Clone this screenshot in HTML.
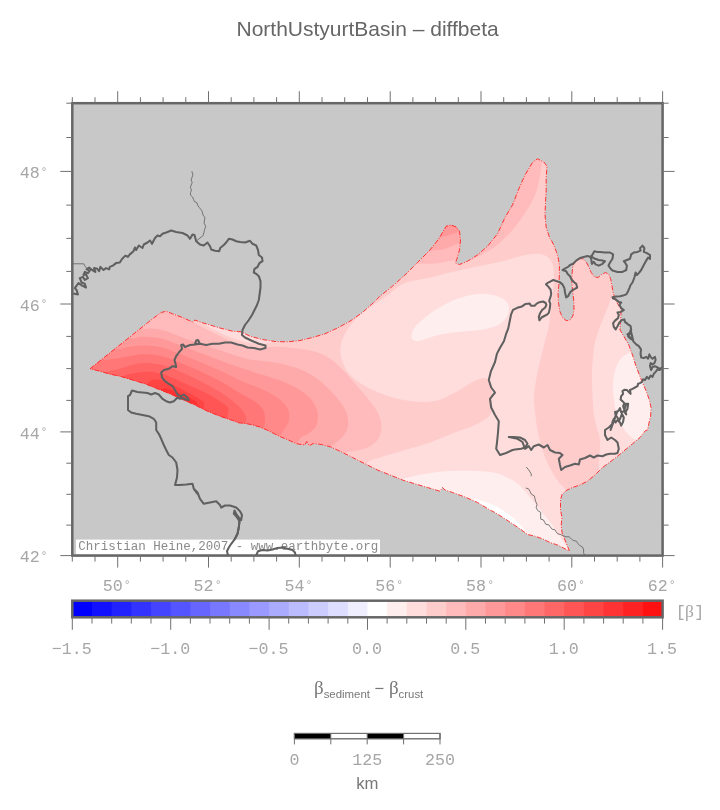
<!DOCTYPE html>
<html><head><meta charset="utf-8"><title>NorthUstyurtBasin - diffbeta</title>
<style>
html,body{margin:0;padding:0;background:#fff;}
svg{display:block;will-change:transform}
text{font-family:"Liberation Sans",sans-serif;}
.m{font-family:"Liberation Mono",monospace;font-size:16.67px;fill:#a6a6a6;}
.s{font-family:"Liberation Sans",sans-serif;fill:#777;}
</style></head><body>
<svg width="720" height="810" viewBox="0 0 720 810">
<defs><clipPath id="bc"><path d="M90 368.8 102.5 358.8 115 348.8 127.5 338.8 140 328.8 152.5 318.8 161.2 312.5 166.2 311.2 172.5 313.8 182.5 317.5 192.5 322 195 320 200 322 210 325 220 328 232.5 331.2 241.2 331.8 250 336.2 262.5 339.5 275 341.5 287.5 341.8 300 340.5 312.5 337.5 325 333.8 337.5 328 350 321.2 362.5 312.5 375 301.2 380 296.2 392.5 286.2 405 275 417.5 262.5 430 250 438.8 238.8 446.2 226.2 451.2 225 456.2 227 459.5 231.2 460.5 240 459.5 250 457 258.8 455.5 263 459.5 264.5 467.5 261.2 477.5 255 487.5 246.2 497.5 233.8 505 217.5 512.5 205 518.8 188.8 525 175 532.5 162.5 537.5 158.8 543.8 162 547 166.2 546.2 177.5 546.2 190 545.5 202.5 545 215 546.2 227.5 550 238.8 551.2 240 553.8 245 556.2 251.2 558.1 257.5 559.4 265 559.4 275 558.8 285 558.1 293.8 558.5 302.5 559.8 311.2 562.5 317.5 566.2 320.6 570 320 572.8 316.2 574 310 573.8 301.2 572.8 292.5 571.9 283.8 571.9 275 572.8 266.2 575 261.2 578.8 258.5 583.1 258.8 586.2 261.9 588.8 266.9 591.2 272.5 594.4 276.9 598.1 277.5 601.9 274.4 605.6 272.5 608.8 274.4 610.6 278.8 611.9 285 613.1 292.5 615 298.8 618.1 304.4 621.2 310 620 330 623.8 336.2 628.8 345 632.5 355 635.6 365 639.4 375 642.5 382.5 646.2 391.2 649.4 400 651 407.5 650.6 416.2 648.8 423.8 647.5 430 645.5 430.5 640 437.5 632.5 443.8 625 450 617.5 456.2 610 462 602.5 467.5 595 475 587.5 481.2 580 485 572.5 487.5 566.2 490.5 562 494.5 560.5 500 560.5 510 562 517.5 561.2 525 562 532.5 565 540 568 547.5 569.5 551.2 565 548.8 557.5 545 550 542.5 542.5 538.8 535 536.2 527.5 534.5 520 528.8 512.5 523.8 505 518.8 495 512.5 490 510 477.5 502.5 465 497 452.5 492.5 445 490 442.5 487.5 440 491.2 427.5 487.5 415 483.8 402.5 480 390 475 377.5 470 365 463.8 352.5 457.5 340 451.2 338.3 450.5 330 446.7 321.7 444.6 313.3 443.5 309.2 445.8 306.7 441.5 305 445 296.7 443.8 288.3 440 280.3 436.7 273.3 433.2 266.4 429.7 259.4 426.9 252.5 424.9 245.6 423.5 238.6 422.8 232.5 420.5 220 416.2 207.5 411.2 195 405 182.5 399.5 170 393.8 157.5 388.8 145 383.8 132.5 380 120 376.2 110 374.2 100 371.2Z"/></clipPath>
<clipPath id="fc"><rect x="72.3" y="103.2" width="590.3" height="452.4"/></clipPath></defs>
<rect width="720" height="810" fill="#fff"/>
<text x="367.6" y="35.7" text-anchor="middle" font-size="21" fill="#666">NorthUstyurtBasin – diffbeta</text>
<rect x="72.3" y="103.2" width="590.3" height="452.4" fill="#c8c8c8"/>
<g clip-path="url(#bc)">
<rect x="70" y="100" width="600" height="460" fill="rgb(255,221,221)"/>
<path d="M60 300C100 253.3 216.7 230 300 200C383.3 170 493.3 113.3 560 120C626.7 126.7 676.7 210 700 240C723.3 270 706.7 290 700 300C693.3 310 672.5 301.3 660 300C647.5 298.7 632.8 292.8 625 292C617.2 291.2 615.7 292.8 613 295C610.3 297.2 610.3 301.2 608.8 305C607.2 308.8 605.4 313.3 603.8 317.5C602.1 321.7 600.2 325.8 598.8 330C597.3 334.2 596 337.9 595 342.5C594 347.1 593.5 352.1 593 357.5C592.5 362.9 592.1 368.8 592 375C591.9 381.2 592.2 388.3 592.5 395C592.8 401.7 593.2 409.5 594 415C594.8 420.5 596 423.8 597 428C598 432.2 599.7 434.7 600 440C600.3 445.3 599.5 453.3 599 460C598.5 466.7 600.2 474.2 597 480C593.8 485.8 585.8 494 580 495C574.2 496 567.5 491.5 562 486C556.5 480.5 550.8 470.2 547 462C543.2 453.8 541 445.3 539 437C537 428.7 535.8 419 535 412C534.2 405 533.5 402 534 395C534.5 388 536.3 378.3 538 370C539.7 361.7 542.2 352.5 544 345C545.8 337.5 547.6 333.2 549 325C550.4 316.8 551.7 303.9 552.5 296C553.3 288.1 554 282.8 554 277.5C554 272.2 553.8 267.6 552.5 264C551.2 260.4 548.9 257.7 546 256C543.1 254.3 539.3 253.7 535 253.8C530.7 253.8 525.4 255 520 256.2C514.6 257.5 509.6 259.5 502.5 261.2C495.4 263 486.2 264.6 477.5 266.5C468.8 268.4 456.9 270.9 450 272.5C443.1 274.1 441.7 275 436.2 276.2C430.8 277.5 423.1 278.7 417.5 280C411.9 281.3 407.4 281.5 402.5 284C397.6 286.5 393.1 291.3 388 295C382.9 298.7 376.3 303 372 306C367.7 309 365.7 309.7 362 313C358.3 316.3 353.2 321.8 350 326C346.8 330.2 344.6 334.3 343 338C341.4 341.7 340.8 344.7 340.5 348C340.2 351.3 340.4 354.2 341.5 358C342.6 361.8 343.9 366.8 347 371C350.1 375.2 353.7 379 360 383C366.3 387 376.7 392 385 395C393.3 398 401.7 400 410 401C418.3 402 427.5 402.4 435 401C442.5 399.6 449.2 395.4 455 392.5C460.8 389.6 465.2 385.9 470 383.5C474.8 381.1 480.5 377.9 484 378C487.5 378.1 489.7 380.3 491 384C492.3 387.7 492.2 394.8 492 400C491.8 405.2 492.8 410.8 490 415C487.2 419.2 480.8 422.1 475 425C469.2 427.9 462.5 429.6 455 432.5C447.5 435.4 438.3 439.6 430 442.5C421.7 445.4 413.3 447.5 405 450C396.7 452.5 386.2 455.4 380 457.5C373.8 459.6 373.3 458.8 367.5 462.5C361.7 466.2 396.2 477.1 345 480C293.8 482.9 107.5 510 60 480C12.5 450 20 346.7 60 300Z" fill="rgb(255,204,204)"/>
<path d="M204 322C204.8 325.7 210.7 327.5 215 330C219.3 332.5 225 335 230 337C235 339 240.3 340.8 245 342C249.7 343.2 254.2 343.8 258 344C261.8 344.2 265.3 343.6 268 343C270.7 342.4 271.2 343.5 274 340.5C276.8 337.5 290.7 330.1 285 325C279.3 319.9 252.5 312.8 240 310C227.5 307.2 216 306 210 308C204 310 203.2 318.3 204 322Z" fill="rgb(255,221,221)"/>
<path d="M169 306.5C171.3 308.2 178.7 313.8 183 316.5C187.3 319.2 190.5 320.6 195 323C199.5 325.4 205 328.4 210 331C215 333.6 220 336.2 225 338.5C230 340.8 235 343.3 240 345C245 346.7 250.6 348.1 255 348.5C259.4 348.9 262.8 347.8 266.7 347.5C270.6 347.2 273.6 346.6 278.3 346.7C283 346.8 289.7 347.7 295 348.3C300.3 348.9 305.6 349.6 310 350.5C314.4 351.4 318 352.4 321.7 354C325.4 355.6 328.3 357.2 332 360C335.7 362.8 339.8 366.7 344 371C348.2 375.3 352.8 381.2 357 386C361.2 390.8 365.5 395.5 369 400C372.5 404.5 375.9 408.4 378 413C380.1 417.6 381.6 423 381.5 427.5C381.4 432 379.8 436.7 377.5 440C375.2 443.3 371.2 445.7 367.5 447.5C363.8 449.3 358.8 450 355 451C351.2 452 347.7 450.8 345 453.5C342.3 456.2 340 465.2 339 467.5L305 513.5L40 513.5L40 306.5Z" fill="rgb(255,187,187)"/>
<path d="M129 318.5C131.3 320.2 139.5 326.9 143 328.5C146.5 330.1 147.2 328 150 328.2C152.8 328.4 156.7 328.8 160 329.5C163.3 330.2 166.7 331.3 170 332.5C173.3 333.7 175 334.7 180 336.5C185 338.3 193.3 341.2 200 343.5C206.7 345.8 213.3 348 220 350.2C226.7 352.4 235 355.2 240 356.8C245 358.4 245.6 358.7 250 359.5C254.4 360.3 260.9 360.7 266.7 361.5C272.5 362.3 279.2 363.1 285 364.5C290.8 365.9 296.4 367.7 301.7 370C307 372.3 312 375 316.7 378.3C321.4 381.6 326.1 386.1 330 390C333.9 393.9 337.2 397.8 340 401.7C342.8 405.6 345.4 409.2 346.7 413.3C348 417.4 348.4 422.4 348 426C347.6 429.6 345.8 432.3 344 435C342.2 437.7 339.3 439.7 337 442C334.7 444.3 332.2 445.2 330 448.6C327.8 452 325 460.3 324 462.6L290 508.6L40 508.6L40 318.5Z" fill="rgb(255,170,170)"/>
<path d="M116 328C118.3 329.7 126 336.5 130 338C134 339.5 136.7 337 140 336.8C143.3 336.6 146.7 336.7 150 336.9C153.3 337.1 156.7 337.5 160 338.2C163.3 338.9 166.7 340 170 341.2C173.3 342.4 175 343.3 180 345.2C185 347.1 193.3 350.3 200 352.8C206.7 355.3 213.3 357.7 220 360.2C226.7 362.7 234.4 365.6 240 367.6C245.6 369.6 248.3 370.4 253.3 372C258.3 373.6 264.4 375.2 270 377C275.6 378.8 281.7 380.8 286.7 383C291.7 385.2 295.8 387.2 300 390C304.2 392.8 308.8 396.4 311.7 400C314.6 403.6 316.5 408.1 317.5 411.7C318.5 415.3 317.9 418.8 317.5 421.5C317.1 424.2 316.6 425.9 315 428C313.4 430.1 310.5 432.2 308 434C305.5 435.8 302.3 435.4 300 438.5C297.7 441.6 295 450.2 294 452.5L260 498.5L40 498.5L40 328Z" fill="rgb(255,153,153)"/>
<path d="M102 338.8C104.3 340.5 111.7 347.5 116 348.8C120.3 350.1 124 347.4 128 346.9C132 346.3 136.3 345.7 140 345.5C143.7 345.3 146.7 345.4 150 345.7C153.3 345.9 156.7 346.3 160 347C163.3 347.7 166.7 348.8 170 350C173.3 351.2 175 352 180 354C185 356 193.3 359.2 200 362C206.7 364.8 213.3 367.5 220 370.6C226.7 373.7 233.9 377.7 240 380.4C246.1 383.1 251.7 384.9 256.7 387C261.7 389.1 265.8 390.7 270 393C274.2 395.3 278.6 398.2 281.7 401C284.8 403.8 287.1 406.9 288.3 410C289.5 413.1 289.1 417.2 289 419.5C288.9 421.8 288.2 422.5 287.5 424C286.8 425.5 286 426.8 285 428.3C284 429.9 282.7 431.8 281.7 433.3C280.7 434.8 280.4 434.5 279 437.5C277.6 440.5 274 449.2 273 451.5L239 497.5L40 497.5L40 338.8Z" fill="rgb(255,136,136)"/>
<path d="M88.5 349.5C90.8 351.2 98.1 358 102.5 359.5C106.9 361 110.8 359.2 115 358.7C119.2 358.2 123.8 357.1 128 356.4C132.2 355.7 136.3 354.7 140 354.4C143.7 354.1 146.7 354.2 150 354.4C153.3 354.6 156.7 355.1 160 355.8C163.3 356.5 166.7 357.6 170 358.8C173.3 360 175 360.7 180 362.8C185 364.9 193.3 368.2 200 371.2C206.7 374.2 213.3 377.3 220 381C226.7 384.7 234.2 389.8 240 393.2C245.8 396.6 251.1 398.7 255 401.5C258.9 404.3 261.6 407.1 263.3 410C265 412.9 264.8 416.7 265 419C265.2 421.3 264.9 422.4 264.6 424C264.3 425.6 264.3 425.4 263 428.5C261.7 431.6 258 440.2 257 442.5L223 488.5L40 488.5L40 349.5Z" fill="rgb(255,119,119)"/>
<path d="M95 385C96.7 383 101.7 375.5 105 373C108.3 370.5 111.2 371.1 115 370C118.8 368.9 123.8 367.3 128 366.2C132.2 365.1 136.3 363.8 140 363.3C143.7 362.8 146.7 363 150 363.2C153.3 363.4 156.7 363.8 160 364.5C163.3 365.2 166.7 366.3 170 367.5C173.3 368.7 175 369.2 180 371.5C185 373.8 193.3 377.6 200 381C206.7 384.4 214.2 388.3 220 392C225.8 395.7 231.3 400 235 403C238.7 406 240.2 407.6 242 409.9C243.8 412.2 245.4 415.1 246 417C246.6 418.9 246.1 419.6 245.8 421C245.6 422.4 245.7 422.4 244.5 425.5C243.3 428.6 239.5 437.2 238.5 439.5L204.5 485.5L40 485.5L40 385Z" fill="rgb(255,102,102)"/>
<path d="M112 389C113.7 387 118 379.7 122 377C126 374.3 131.3 373.9 136 373C140.7 372.1 145.3 371.5 150 371.8C154.7 372.1 159.3 373.2 163.9 374.6C168.5 376 173.2 378.2 177.8 380.2C182.4 382.2 187.1 384.3 191.7 386.4C196.3 388.5 201 390.3 205.6 392.7C210.2 395.1 215.7 398.4 219.4 400.9C223.1 403.3 226.6 405.4 228 407.4C229.4 409.4 227.9 411.4 227.8 413C227.7 414.6 227.8 415.7 227.5 417C227.2 418.3 227.2 418 226 421C224.8 424 221 432.7 220 435L186 481L40 481L40 389Z" fill="rgb(255,85,85)"/>
<path d="M140 393C141.7 391 146.7 383.2 150 381C153.3 378.8 156.7 379.6 160 380C163.3 380.4 165.8 381.7 170 383.5C174.2 385.3 180.5 388.7 185 391C189.5 393.3 193.8 395.5 197 397.5C200.2 399.5 203 400.9 204 403C205 405.1 203.8 409.2 203 410C202.2 410.8 200.7 406 199 408C197.3 410 194 419.7 193 422L159 468L40 468L40 393Z" fill="rgb(255,68,68)"/>
<path d="M152 401C153.7 399 159 390.9 162 389C165 387.1 167 388.8 170 389.5C173 390.2 176.7 392.1 180 393.5C183.3 394.9 187.2 396.5 190 398C192.8 399.5 196 401.3 197 402.5C198 403.7 197.2 404.9 196 405C194.8 405.1 192 401 190 403C188 405 185 414.7 184 417L150 463L40 463L40 401Z" fill="rgb(255,51,51)"/>
<path d="M400 268C406.2 265.3 412.1 264.5 417.5 263.8C422.9 263 427.9 264.1 432.5 263.8C437.1 263.4 441.2 262.4 445 261.9C448.8 261.4 452.3 260.3 455 260.5C457.7 260.7 459.2 262.8 461 263C462.8 263.2 463.2 263 466 262C468.8 261 474.3 258.6 477.5 257C480.7 255.4 482.7 254 485.4 252.5C488.1 251 490.9 249.7 493.6 247.8C496.3 245.9 498.8 243.7 501.7 241C504.6 238.3 508.1 235.1 511.2 231.5C514.4 227.9 517.9 223.4 520.8 219.3C523.7 215.2 526.4 211.3 528.9 207C531.4 202.7 533.9 198.5 535.7 193.5C537.5 188.5 538.8 182.4 539.8 177.2C540.8 172 541.3 166.7 541.8 162.2C542.3 157.7 546.6 152 543 150C539.4 148 537.2 141.7 520 150C502.8 158.3 463.3 178.3 440 200C416.7 221.7 386.7 268.7 380 280C373.3 291.3 393.8 270.7 400 268Z" fill="rgb(255,187,187)"/>
<path d="M420 258C424.2 257.4 426.2 252.7 430 251.2C433.8 249.8 438.3 250.4 442.5 249.4C446.7 248.4 452.2 246.1 455 245C457.8 243.9 456.2 244.5 459.4 243C462.6 241.5 472.2 240.7 474 236C475.8 231.3 477.3 217.7 470 215C462.7 212.3 440.8 213.3 430 220C419.2 226.7 406.7 248.7 405 255C403.3 261.3 415.8 258.6 420 258Z" fill="rgb(255,170,170)"/>
<path d="M436 240C437.7 242.9 437.7 238.3 440 237.5C442.3 236.7 446.7 236 450 235C453.3 234 456.3 232.4 460 231.2C463.7 230.1 470.3 230.7 472 228C473.7 225.3 477 216.3 470 215C463 213.7 435.7 215.8 430 220C424.3 224.2 434.3 237.1 436 240Z" fill="rgb(255,153,153)"/>
<path d="M411.5 335C411.8 332.8 413 329.7 415 327C417 324.3 419.3 322.1 423.3 318.9C427.3 315.7 433.3 311.1 438.9 307.8C444.5 304.5 450.8 301.1 456.7 298.9C462.6 296.7 468.8 295.1 474.4 294.4C479.9 293.6 485.2 293.6 490 294.4C494.8 295.1 500.2 296.8 503.3 298.9C506.4 300.9 508.3 303.7 508.9 306.7C509.5 309.7 508.4 313.8 506.7 316.7C505 319.6 502.4 322.4 498.9 324.4C495.4 326.4 490.8 327.8 485.6 328.9C480.4 330 474.1 330.4 467.8 331.1C461.5 331.8 453.7 332.4 447.8 333.3C441.9 334.2 437 335.4 432.2 336.7C427.4 338 422.1 340.6 418.9 341.1C415.7 341.7 414.2 341 413 340C411.8 339 411.2 337.2 411.5 335Z" fill="rgb(255,238,238)"/>
<path d="M634 351C630 351.6 628.5 352.8 626 354.5C623.5 356.2 620.9 357.9 619 361C617.1 364.1 615.5 368.8 614.5 373C613.5 377.2 612.8 381.7 612.8 386C612.7 390.3 613.5 394.8 614 399C614.5 403.2 614.8 406.8 616 411C617.2 415.2 619.2 420.3 621 424C622.8 427.7 624.5 430.3 627 433C629.5 435.7 632.2 438.8 636 440C639.8 441.2 645.2 446.7 650 440C654.8 433.3 665 414.8 665 400C665 385.2 655.2 359.2 650 351C644.8 342.8 638 350.4 634 351Z" fill="rgb(255,238,238)"/>
<path d="M396 483C397.1 479.3 399.8 479.6 406.4 477.8C413 476 426.1 473.4 435.6 472.2C445.1 471 454.1 470.8 463.3 470.8C472.6 470.8 484.2 471.3 491.1 472.2C498.1 473.1 500.4 474.3 505 476.4C509.6 478.5 514.7 481.2 518.9 484.7C523.1 488.2 526.3 492.8 530 497.2C533.7 501.6 537.4 506.5 541.1 511.1C544.8 515.7 548.5 519.9 552.2 525C555.9 530.1 560.4 537.4 563.3 541.7C566.2 546 570 547.6 569.5 551C569 554.4 574.9 563.8 560 562C545.1 560.2 506.7 550.3 480 540C453.3 529.7 414 509.5 400 500C386 490.5 394.9 486.7 396 483Z" fill="rgb(255,238,238)"/>
<path d="M474 499C474 496.8 477.2 499.7 480 500.5C482.8 501.3 487.3 502.5 491 504C494.7 505.5 498.5 507.4 502.2 509.7C505.9 512 510 515.2 513.3 518C516.5 520.8 519.9 524.2 521.7 526.4C523.5 528.6 526 529.7 524 531C522 532.3 517.3 536.8 510 534C502.7 531.2 486 519.8 480 514C474 508.2 474 501.2 474 499Z" fill="rgb(255,255,255)"/>
</g>
<path d="M90 368.8 102.5 358.8 115 348.8 127.5 338.8 140 328.8 152.5 318.8 161.2 312.5 166.2 311.2 172.5 313.8 182.5 317.5 192.5 322 195 320 200 322 210 325 220 328 232.5 331.2 241.2 331.8 250 336.2 262.5 339.5 275 341.5 287.5 341.8 300 340.5 312.5 337.5 325 333.8 337.5 328 350 321.2 362.5 312.5 375 301.2 380 296.2 392.5 286.2 405 275 417.5 262.5 430 250 438.8 238.8 446.2 226.2 451.2 225 456.2 227 459.5 231.2 460.5 240 459.5 250 457 258.8 455.5 263 459.5 264.5 467.5 261.2 477.5 255 487.5 246.2 497.5 233.8 505 217.5 512.5 205 518.8 188.8 525 175 532.5 162.5 537.5 158.8 543.8 162 547 166.2 546.2 177.5 546.2 190 545.5 202.5 545 215 546.2 227.5 550 238.8 551.2 240 553.8 245 556.2 251.2 558.1 257.5 559.4 265 559.4 275 558.8 285 558.1 293.8 558.5 302.5 559.8 311.2 562.5 317.5 566.2 320.6 570 320 572.8 316.2 574 310 573.8 301.2 572.8 292.5 571.9 283.8 571.9 275 572.8 266.2 575 261.2 578.8 258.5 583.1 258.8 586.2 261.9 588.8 266.9 591.2 272.5 594.4 276.9 598.1 277.5 601.9 274.4 605.6 272.5 608.8 274.4 610.6 278.8 611.9 285 613.1 292.5 615 298.8 618.1 304.4 621.2 310 620 330 623.8 336.2 628.8 345 632.5 355 635.6 365 639.4 375 642.5 382.5 646.2 391.2 649.4 400 651 407.5 650.6 416.2 648.8 423.8 647.5 430 645.5 430.5 640 437.5 632.5 443.8 625 450 617.5 456.2 610 462 602.5 467.5 595 475 587.5 481.2 580 485 572.5 487.5 566.2 490.5 562 494.5 560.5 500 560.5 510 562 517.5 561.2 525 562 532.5 565 540 568 547.5 569.5 551.2 565 548.8 557.5 545 550 542.5 542.5 538.8 535 536.2 527.5 534.5 520 528.8 512.5 523.8 505 518.8 495 512.5 490 510 477.5 502.5 465 497 452.5 492.5 445 490 442.5 487.5 440 491.2 427.5 487.5 415 483.8 402.5 480 390 475 377.5 470 365 463.8 352.5 457.5 340 451.2 338.3 450.5 330 446.7 321.7 444.6 313.3 443.5 309.2 445.8 306.7 441.5 305 445 296.7 443.8 288.3 440 280.3 436.7 273.3 433.2 266.4 429.7 259.4 426.9 252.5 424.9 245.6 423.5 238.6 422.8 232.5 420.5 220 416.2 207.5 411.2 195 405 182.5 399.5 170 393.8 157.5 388.8 145 383.8 132.5 380 120 376.2 110 374.2 100 371.2Z" fill="none" stroke="#f22" stroke-width="0.9" stroke-dasharray="5 1.5 1 1.5"/>
<g clip-path="url(#fc)">
<path d="M191.8 171.2 192.9 174.4 192 177.5 191.1 179.9 192.2 182.6 191.2 185 190.3 187.4 191.5 190.1 190.5 192.5 190.6 195.2 192.6 197.1 193.5 199.4 194.4 201.6 196.9 202.7 197.5 205 199.4 207.7 201.9 210.8 202.5 213.1 203.1 215.1 204.9 217.4 204.5 220 204.1 223.2 205.7 226.3 204.7 229.4 204 232.1 203.1 235.5 200 238 197 240.5M72 263.8 83.8 263.8 85 266.2 88 270M526.2 467 528.8 470 531.2 473.8 531.2 476.2M525.8 488 528.6 488.9 530 491.3 531.3 494.2 534.4 495.9 535 498.8 535.6 501.2 537 504.4 536.2 507.5 537.6 510.4 540.7 512.4 540.6 515.6 540.8 519.2 543.4 519.9 544.6 522.1 545.8 524.3 548.8 524.8 550.4 527.1 552.1 529.2 554.8 529.7 556.2 531.9 557.7 533.9 560.1 534.3 563.1 535.7 566 536.8 569.1 536.8 571.2 538.8 573.4 540.5 576.3 541.1 577.9 543.4 579.5 545.4 582.5 547 583.7 550 583.5 552.6 584.5 555" fill="none" stroke="#6a6a6a" stroke-width="0.9" stroke-linejoin="round"/>
<path d="M71 293.1 77.9 294.4 76.6 290 74.8 288.1 78.5 283.1 82.2 285.6 86 287.5 84.8 283.8 81.6 282.5 79.8 278.1 82.9 276.9 84.8 280 87.9 278.1 86 274.4 83.5 275 84.8 271.9 87.9 273.1 89.8 270.6 86.6 269.4 89.1 267.5 92.2 270 95.4 271.9 94.1 268.1 97.2 268.8 99.1 271.2 100.4 266.9 103.5 270 106 268.1 109.1 269.4 109.8 266.9 112.9 265.6 116 263.1 119.8 262.5 122.2 258.8 125.4 255.6 127.9 256.9 129.8 254.4 133.5 251.2 135 247.5 136.2 250 138.8 245.5 142.5 248 143.8 244.5 147.5 242.5 150 240.5 152 243.8 155 238 157.5 235.5 160 236.2 162.5 233.8 166.2 232.5 171.2 230.5 176.2 232 182.5 233 187.5 235.5 190 238.8 192.5 234.5 194.5 235 196.2 241.2 200 244.5 203.8 245.5 207.5 242.5 210 246.2 211.2 249.5 215 250.8 219.2 251.2 220.2 248 223.8 245 226.2 242.5 228.8 238.8 232.5 239.5 236.2 241.2 240 242 245 242.5 250 240.8 252.5 243.8 256.2 245.5 258 250 258.8 255 262 257.5 262.5 261.2 259.5 263 257.5 267 254.5 268.8 253.8 272.5 256.2 273.8 258.8 276.2 260.5 281.2 260.5 287.5 259.5 295 258.8 300 257 305 254.5 310 252 315 248.8 320 245 325 242.5 330 242 335 245 337.5 251.2 340.5 258.8 343.8 265.5 345.5 265.5 348 260 349.5 253.8 348 247.5 347.5 242.5 345.5 237.5 344.5 231.2 342.5 225 342.5 218.8 343.8 212.5 343.8 206.2 345 200 343.8 195 343.8 196.2 340.5 198 340 200 343.8 195 344.5 190 345 185 347 183 344.5 181.2 345 182 348.8 178.8 352.5 176.2 356.2 174.5 360 175.5 363.8 176.2 367 172.5 366.2 168.8 368.8 163.8 370 161.2 372.5 162 377.5 165 381.2 168.8 383.8 172.5 386.2 175 390 177.5 394.5 181.2 396.2 183.8 394.5 187.5 397.5 188.8 400 185.5 399.5 182.5 398 180 398.8 177.5 397.5 173.8 401.2 170 402.5 166.2 401.2 162.5 398.8 158.8 394.5 155 393 151.2 394.5 147.5 393 142.5 392.5 137.5 392 132 390.5 130 395 128 396.2 128 402.5 128 410 131.2 412.5 136.2 413.8 142.5 415 148.8 416.2 153.8 418.8 156.2 422.5 156.2 430 158.8 433.8 161.2 438.8 163.8 445 166.2 450 168.8 455 172.5 457.5 176.2 462.5 177.5 470 177 477.5 175 485 180 485 186.2 484.5 192.5 483.8 193.8 488.8 197.5 493.8 193.8 488.8 197.5 492.5 200 498.8 203.8 503.8 210 502.5 216.2 501.2 220 505 221.2 507.5 225 505.5 230 505.5 236.2 507.5 240 511.2 242 515 241.2 520 238.8 517.5 236.2 513.8 234.5 510.5 233.8 513.8 236.2 516.2 239.5 521.2 238.8 527.5 237.5 533.8 235 538.8 231.2 543.8 228.8 547.5 227 551.2 228 555.5M256.2 555.5 258 551.2 262.5 550 267.5 550.5 272.5 549.5 277.5 548 282.5 547.5 287.5 548.8 292.5 550 295 552.5 295.5 555.5M591.9 263.8 591.2 258.8 590 256.9 587.5 256 583.8 256.9 580 258.1 576.2 260.6 573.1 263.8 570 265 568.1 266.9 565.6 268.1 562.5 270 566.2 271.2 567.5 273.8 570 276.2 571.9 280 574.4 282.5 576.2 283.8 577.2 287.5 575 288.8 572.5 290 570 292.5 568.1 296.2 566.2 297.5 565 292.5 564.4 288.1 562.5 284.4 559.4 281.9 556.2 281 553.3 280 550.6 281.4 547.8 282.8 546 284.2 548.5 286.9 550.6 289.7 551.2 293.9 550.6 296.7 549.2 300.8 550.3 303.6 549.9 307.8 548.9 312.6 547 314.7 544.3 316 541.5 317.5 539.4 320.3 538.8 316.8 540 313.3 542.2 309.9 545 307.8 546.4 305 545.7 303 543 301.5 539.4 302.2 536.7 303.6 534.6 305.7 531 305.7 529.7 303.6 525.6 303.9 522 306.4 517.2 307.8 513 309.9 511 314.7 509.6 321.7 508.2 328.6 506 334.2 504 341 499.9 348 497 353.6 495 362 490.8 371.7 488.8 380 491.2 387.5 495 392.5 490 398.8 491.2 407.5 495 415 498.8 421.2 498 432.5 497 442.5 496.2 448.8 500 455 506.2 453 512.5 450 515 449.5 521.2 448.8 525 447.5 527.5 443.8 525 440 520 437.5 513.8 437 508.8 437 517.5 438.8 522.5 442 525 448.8 528.8 446.2 531.2 450 533.8 446.2 538.8 444.5 543.8 447.5 547.5 445 550 450 555 452.5 560 453 562.5 455 558.8 458.8 560 465 561.2 470 565 467 570 465.5 575 463.8 578.8 464.5 580 459.5 585 458 590 455.5 593.8 457.5 597.5 455.5 602.5 456.2 606.2 454.5 610 453.8 615 453.8 617.5 453 618.8 448.8 617.5 442.5 615 440 611.2 437.5 607.5 440 605 435 605 430 608.8 427.5 612.5 423.8 615 417.5 617.5 411.2 610.6 430 611.9 426.2 612.5 421.9 613.8 418.8 615.6 422.5 617.5 420 620 422.5 621.2 425.6 623.1 421.9 623.8 417.5 621.9 413.8 620.6 417.5 618.8 421.2 617.5 417.5 615.6 415 615 411.9 618.1 411.2 620 408.1 621.2 412.5 623.8 411.2 626.2 414.4 625.6 411.9 627.5 408.8 628.1 403.8 626.2 403.8 624.4 410 623.1 406.2 624.4 403.1 622.5 401.2 620.6 399.4 621.2 396.2 623.1 393.8 622.5 391.2 624.4 389.8 626.9 390 628.1 391.2 630.6 393.8 630 390 632.5 388.8 635 387.5 637.5 386.2 638.1 383.8 640 383.1 641.9 381.9 643.1 379.4 645 380 646.9 376.9 648.8 378.8 650.6 375.6 652.5 376.9 653.8 373.8 655.6 371.9 657.5 369.4 660 370 661.9 367.5 660 368.8 657.5 367.5 655 366.2 652.5 366.9 651.2 370 650 366.2 650.6 363.1 652.5 364.4 654.4 363.1 655.6 360 655 356.9 652.5 358.8 650.6 356.9 649.4 354.4 648.1 358.8 646.2 356.9 643.8 358.1 641.2 357.5 640.6 353.8 641 349.4 638.8 346.2 636.2 344.4 633.8 341.9 631.9 338.8 629.4 336.9 627.5 334.4 630 332.5 630.6 330 633.1 340 630.6 338.8 628.1 336.2 630 333.8 631.2 330 630.6 326.2 628.1 324.4 625 321.9 624.4 319.4 621.9 320 619.4 322.5 617.5 326.2 615.6 329.4 613.8 326.9 613.1 323.1 615 320.6 618.1 318.1 618.8 315 617.5 312.5 620.6 311.9 623.8 310 621.2 308.1 619.4 305 621.2 302.5 618.8 301.9 615.6 299.4 613.1 298.5 612.5 297.2 616.2 296.5 620 296.2 623.1 295.6 626.2 294.4 628.1 291.2 629.4 288.1 630.6 285 632.5 282.5 634.4 277.5 635.6 272.5 636.9 275 638.8 273.1 641.2 270 643.8 265 646.2 260.6 648.1 257.5 650 258.8 650 255 646.9 253.1 643.8 251.9 644.4 248.1 642.5 245.6 640 248.1 640.6 250.6 637.5 251.9 633.8 252.5 631.2 254.4 630 258.8 626.9 260 623.8 261.2 625 262.5 626.9 265.6 626.2 270 622.5 271.9 617.5 271.9 612.5 270.6 610.6 268.8 608.5 265.6 610 262.5 612.5 258.8 613.1 254.4 610 252.5 605 252.5 600 251.9 597.5 251.9 594.4 251.2 591.9 255.6 590 256.9M591.9 256.9 595 258.8 598.8 260 602.5 260.6 605 261.2 602.5 263.8 598.8 265.6 595.6 264.4 593.8 261.9 591.9 263.8" fill="none" stroke="#606060" stroke-width="2.05" stroke-linejoin="round" stroke-linecap="round"/>
<rect x="76" y="539.6" width="304" height="14.6" fill="#fff"/>
<text x="78.2" y="550.4" class="m" style="font-size:12.5px;fill:#8a8a8a" textLength="300" lengthAdjust="spacing">Christian Heine,2007 - www.earthbyte.org</text>
<path d="M256.2 555.5 258 551.2 262.5 550 267.5 550.5 272.5 549.5 277.5 548 282.5 547.5 287.5 548.8 292.5 550 295 552.5 295.5 555.5M239.5 521.2 238.8 527.5 237.5 533.8 235 538.8 231.2 543.8 228.8 547.5 227 551.2 228 555.5" fill="none" stroke="#606060" stroke-width="2.05" stroke-linejoin="round"/>
</g>
<rect x="72.3" y="103.2" width="590.3" height="452.4" fill="none" stroke="#666666" stroke-width="2.5"/>
<path d="M72.3 103.2v-6M72.3 555.6v6M95 103.2v-6M95 555.6v6M117.7 103.2v-12M117.7 555.6v12M140.4 103.2v-6M140.4 555.6v6M163.1 103.2v-6M163.1 555.6v6M185.8 103.2v-6M185.8 555.6v6M208.5 103.2v-12M208.5 555.6v12M231.2 103.2v-6M231.2 555.6v6M253.9 103.2v-6M253.9 555.6v6M276.6 103.2v-6M276.6 555.6v6M299.3 103.2v-12M299.3 555.6v12M322 103.2v-6M322 555.6v6M344.7 103.2v-6M344.7 555.6v6M367.5 103.2v-6M367.5 555.6v6M390.2 103.2v-12M390.2 555.6v12M412.9 103.2v-6M412.9 555.6v6M435.6 103.2v-6M435.6 555.6v6M458.3 103.2v-6M458.3 555.6v6M481 103.2v-12M481 555.6v12M503.7 103.2v-6M503.7 555.6v6M526.4 103.2v-6M526.4 555.6v6M549.1 103.2v-6M549.1 555.6v6M571.8 103.2v-12M571.8 555.6v12M594.5 103.2v-6M594.5 555.6v6M617.2 103.2v-6M617.2 555.6v6M639.9 103.2v-6M639.9 555.6v6M662.6 103.2v-12M662.6 555.6v12M72.3 555.6h-12M662.6 555.6h12M72.3 525.1h-6M662.6 525.1h6M72.3 494.3h-6M662.6 494.3h6M72.3 463.2h-6M662.6 463.2h6M72.3 431.9h-12M662.6 431.9h12M72.3 400.4h-6M662.6 400.4h6M72.3 368.6h-6M662.6 368.6h6M72.3 336.4h-6M662.6 336.4h6M72.3 304h-12M662.6 304h12M72.3 271.4h-6M662.6 271.4h6M72.3 238.4h-6M662.6 238.4h6M72.3 205.1h-6M662.6 205.1h6M72.3 171.4h-12M662.6 171.4h12M72.3 137.5h-6M662.6 137.5h6M72.3 103.2h-6M662.6 103.2h6" stroke="#707070" stroke-width="1" fill="none"/>
<text x="116.8" y="591.4" text-anchor="middle" class="m">50<tspan dx="1.05" dy="-3.4" style="font-size:11.5px">°</tspan></text>
<text x="207.6" y="591.4" text-anchor="middle" class="m">52<tspan dx="1.05" dy="-3.4" style="font-size:11.5px">°</tspan></text>
<text x="298.4" y="591.4" text-anchor="middle" class="m">54<tspan dx="1.05" dy="-3.4" style="font-size:11.5px">°</tspan></text>
<text x="389.3" y="591.4" text-anchor="middle" class="m">56<tspan dx="1.05" dy="-3.4" style="font-size:11.5px">°</tspan></text>
<text x="480.1" y="591.4" text-anchor="middle" class="m">58<tspan dx="1.05" dy="-3.4" style="font-size:11.5px">°</tspan></text>
<text x="570.9" y="591.4" text-anchor="middle" class="m">60<tspan dx="1.05" dy="-3.4" style="font-size:11.5px">°</tspan></text>
<text x="661.7" y="591.4" text-anchor="middle" class="m">62<tspan dx="1.05" dy="-3.4" style="font-size:11.5px">°</tspan></text>
<text x="47.5" y="562.2" text-anchor="end" class="m">42<tspan dx="0.75" dy="-3.4" style="font-size:11.5px">°</tspan></text>
<text x="47.5" y="438.5" text-anchor="end" class="m">44<tspan dx="0.75" dy="-3.4" style="font-size:11.5px">°</tspan></text>
<text x="47.5" y="310.6" text-anchor="end" class="m">46<tspan dx="0.75" dy="-3.4" style="font-size:11.5px">°</tspan></text>
<text x="47.5" y="178" text-anchor="end" class="m">48<tspan dx="0.75" dy="-3.4" style="font-size:11.5px">°</tspan></text>
<rect x="72.30" y="600.7" width="590.30" height="16.6" fill="rgb(0,0,255)"/>
<rect x="91.98" y="600.7" width="570.62" height="16.6" fill="rgb(17,17,255)"/>
<rect x="111.65" y="600.7" width="550.95" height="16.6" fill="rgb(34,34,255)"/>
<rect x="131.33" y="600.7" width="531.27" height="16.6" fill="rgb(51,51,255)"/>
<rect x="151.01" y="600.7" width="511.59" height="16.6" fill="rgb(68,68,255)"/>
<rect x="170.68" y="600.7" width="491.92" height="16.6" fill="rgb(85,85,255)"/>
<rect x="190.36" y="600.7" width="472.24" height="16.6" fill="rgb(102,102,255)"/>
<rect x="210.04" y="600.7" width="452.56" height="16.6" fill="rgb(119,119,255)"/>
<rect x="229.71" y="600.7" width="432.89" height="16.6" fill="rgb(136,136,255)"/>
<rect x="249.39" y="600.7" width="413.21" height="16.6" fill="rgb(153,153,255)"/>
<rect x="269.07" y="600.7" width="393.53" height="16.6" fill="rgb(170,170,255)"/>
<rect x="288.74" y="600.7" width="373.86" height="16.6" fill="rgb(187,187,255)"/>
<rect x="308.42" y="600.7" width="354.18" height="16.6" fill="rgb(204,204,255)"/>
<rect x="328.10" y="600.7" width="334.50" height="16.6" fill="rgb(221,221,255)"/>
<rect x="347.77" y="600.7" width="314.83" height="16.6" fill="rgb(238,238,255)"/>
<rect x="367.45" y="600.7" width="295.15" height="16.6" fill="rgb(255,255,255)"/>
<rect x="387.13" y="600.7" width="275.47" height="16.6" fill="rgb(255,238,238)"/>
<rect x="406.80" y="600.7" width="255.80" height="16.6" fill="rgb(255,221,221)"/>
<rect x="426.48" y="600.7" width="236.12" height="16.6" fill="rgb(255,204,204)"/>
<rect x="446.16" y="600.7" width="216.44" height="16.6" fill="rgb(255,187,187)"/>
<rect x="465.83" y="600.7" width="196.77" height="16.6" fill="rgb(255,170,170)"/>
<rect x="485.51" y="600.7" width="177.09" height="16.6" fill="rgb(255,153,153)"/>
<rect x="505.19" y="600.7" width="157.41" height="16.6" fill="rgb(255,136,136)"/>
<rect x="524.86" y="600.7" width="137.74" height="16.6" fill="rgb(255,119,119)"/>
<rect x="544.54" y="600.7" width="118.06" height="16.6" fill="rgb(255,102,102)"/>
<rect x="564.22" y="600.7" width="98.38" height="16.6" fill="rgb(255,85,85)"/>
<rect x="583.89" y="600.7" width="78.71" height="16.6" fill="rgb(255,68,68)"/>
<rect x="603.57" y="600.7" width="59.03" height="16.6" fill="rgb(255,51,51)"/>
<rect x="623.25" y="600.7" width="39.35" height="16.6" fill="rgb(255,34,34)"/>
<rect x="642.92" y="600.7" width="19.68" height="16.6" fill="rgb(255,17,17)"/>
<rect x="72.3" y="600.7" width="590.3" height="16.6" fill="none" stroke="#666666" stroke-width="2.5"/>
<path d="M72.3 617.3v12.5M92 617.3v6.3M111.7 617.3v6.3M131.3 617.3v6.3M151 617.3v6.3M170.7 617.3v12.5M190.4 617.3v6.3M210 617.3v6.3M229.7 617.3v6.3M249.4 617.3v6.3M269.1 617.3v12.5M288.7 617.3v6.3M308.4 617.3v6.3M328.1 617.3v6.3M347.8 617.3v6.3M367.5 617.3v12.5M387.1 617.3v6.3M406.8 617.3v6.3M426.5 617.3v6.3M446.2 617.3v6.3M465.8 617.3v12.5M485.5 617.3v6.3M505.2 617.3v6.3M524.9 617.3v6.3M544.5 617.3v6.3M564.2 617.3v12.5M583.9 617.3v6.3M603.6 617.3v6.3M623.2 617.3v6.3M642.9 617.3v6.3M662.6 617.3v12.5" stroke="#707070" stroke-width="1" fill="none"/>
<text x="71.8" y="654.2" text-anchor="middle" class="m">−1.5</text>
<text x="170.2" y="654.2" text-anchor="middle" class="m">−1.0</text>
<text x="268.6" y="654.2" text-anchor="middle" class="m">−0.5</text>
<text x="367" y="654.2" text-anchor="middle" class="m">0.0</text>
<text x="465.3" y="654.2" text-anchor="middle" class="m">0.5</text>
<text x="563.7" y="654.2" text-anchor="middle" class="m">1.0</text>
<text x="662.1" y="654.2" text-anchor="middle" class="m">1.5</text>
<text x="675.8" y="617" class="m">[</text><text x="685" y="617" class="m" style="font-family:'Liberation Serif',serif;font-size:17.5px">β</text><text x="694.2" y="617" class="m">]</text>
<text x="314" y="693.6" class="s" font-size="16.67"><tspan font-family="Liberation Serif" font-size="19">β</tspan><tspan dy="4.2" font-size="11.4">sediment</tspan><tspan dy="-4.2"> − </tspan><tspan font-family="Liberation Serif" font-size="19">β</tspan><tspan dy="4.2" font-size="11.4">crust</tspan></text>
<rect x="294.4" y="733.4" width="145.6" height="5.4" fill="#fff" stroke="#707070" stroke-width="1"/>
<rect x="294.4" y="733.4" width="36.4" height="5.4" fill="#000"/>
<rect x="367.2" y="733.4" width="36.4" height="5.4" fill="#000"/>
<rect x="294.4" y="733.4" width="145.6" height="5.4" fill="none" stroke="#707070" stroke-width="1"/>
<path d="M294.4 733.4V744.4M330.8 733.4V744.4M367.2 733.4V744.4M403.6 733.4V744.4M440 733.4V744.4" stroke="#707070" stroke-width="1" fill="none"/>
<text x="294.4" y="764.6" text-anchor="middle" class="m">0</text>
<text x="367.2" y="764.6" text-anchor="middle" class="m">125</text>
<text x="440" y="764.6" text-anchor="middle" class="m">250</text>
<text x="367.3" y="789" text-anchor="middle" class="s" font-size="16.67">km</text>
</svg>
</body></html>
